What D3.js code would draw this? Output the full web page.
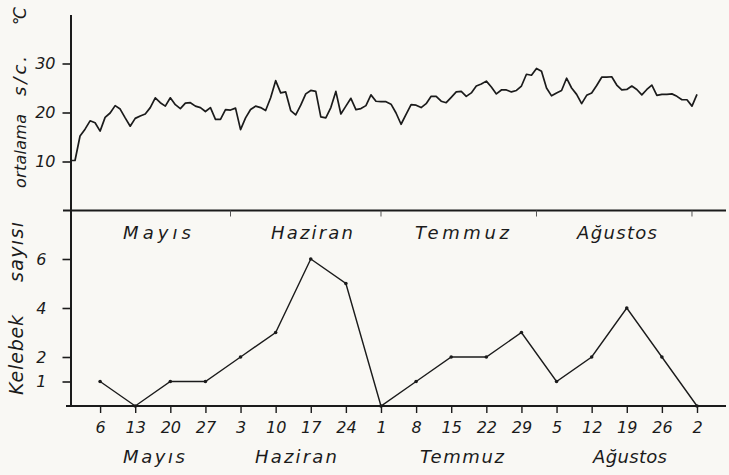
<!DOCTYPE html>
<html>
<head>
<meta charset="utf-8">
<script src="https://cdn.jsdelivr.net/npm/d3@7"></script>
<style>
  body { margin: 0; background: #f9f8f4; }
  svg { display: block; }
  text { font-family: "DejaVu Sans", sans-serif; font-style: italic; fill: #1b1b1b; }
</style>
</head>
<body>
<svg id="chart"></svg>
<script>
// daily mean temperature (°C), one array per month, first day given in tempStarts
var tempStarts = ["2001-04-30", "2001-05-01", "2001-06-01", "2001-07-01", "2001-08-01", "2001-09-01"];
var tempApr = [10.2];
var tempMay = [10.2, 15.2, 16.6, 18.3, 17.9, 16.2, 19.0, 19.9, 21.4, 20.7, 18.9, 17.2, 18.8, 19.3, 19.7, 21.0,
               23.0, 22.0, 21.3, 23.0, 21.6, 20.8, 21.9, 22.0, 21.3, 21.0, 20.2, 21.0, 18.6, 18.6, 20.6];
var tempJun = [20.5, 20.9, 16.5, 18.9, 20.6, 21.3, 21.0, 20.4, 23.0, 26.5, 24.0, 24.2, 20.4, 19.5, 21.5,
               23.8, 24.5, 24.3, 19.1, 18.9, 21.0, 24.3, 19.7, 21.3, 22.9, 20.6, 20.8, 21.4, 23.6, 22.3];
var tempJul = [22.2, 22.2, 21.7, 19.9, 17.6, 19.6, 21.6, 21.5, 21.0, 21.8, 23.3, 23.3, 22.3, 22.0, 23.1, 24.2,
               24.3, 23.3, 24.0, 25.4, 25.8, 26.4, 25.2, 23.8, 24.6, 24.6, 24.2, 24.5, 25.4, 27.8, 27.6];
var tempAug = [29.0, 28.4, 25.0, 23.4, 24.0, 24.5, 27.0, 25.0, 23.7, 21.8, 23.5, 24.0, 25.5, 27.2, 27.2, 27.3,
               25.6, 24.6, 24.7, 25.4, 24.7, 23.6, 24.7, 25.6, 23.5, 23.7, 23.7, 23.8, 23.3, 22.6, 22.6];
var tempSep = [21.3, 23.7];

// weekly butterfly counts
var weekDates = ["2001-05-06", "2001-05-13", "2001-05-20", "2001-05-27", "2001-06-03", "2001-06-10",
                 "2001-06-17", "2001-06-24", "2001-07-01", "2001-07-08", "2001-07-15", "2001-07-22",
                 "2001-07-29", "2001-08-05", "2001-08-12", "2001-08-19", "2001-08-26", "2001-09-02"];
var butterflyCounts = [1, 0, 1, 1, 2, 3, 6, 5, 0, 1, 2, 2, 3, 1, 2, 4, 2, 0];

var monthNames = ["Mayıs", "Haziran", "Temmuz", "Ağustos"];
var monthStarts = ["2001-06-01", "2001-07-01", "2001-08-01", "2001-09-01"];
var tempTicks = [10, 20, 30];
var countTicks = [1, 2, 4, 6];

var width = 729, height = 475;
var parse = d3.utcParse("%Y-%m-%d");

var svg = d3.select("#chart").attr("width", width).attr("height", height);

var x = d3.scaleUtc()
    .domain([parse("2001-04-30"), parse("2001-09-02")])
    .range([70, 697]);
var yTemp = d3.scaleLinear().domain([0, 40]).range([210.5, 14.5]);
var yCount = d3.scaleLinear().domain([0, 8]).range([406, 210]);

var temps = [];
[tempApr, tempMay, tempJun, tempJul, tempAug, tempSep].forEach(function (arr, m) {
    var start = parse(tempStarts[m]);
    arr.forEach(function (v, i) {
        temps.push({ date: d3.utcDay.offset(start, i), value: v });
    });
});
var counts = weekDates.map(function (d, i) { return { date: parse(d), value: butterflyCounts[i] }; });

// horizontal lines: panel divider and bottom axis
svg.append("line").attr("x1", 63).attr("x2", 726).attr("y1", yTemp(0)).attr("y2", yTemp(0))
    .attr("stroke", "#1b1b1b").attr("stroke-width", 2);
svg.append("line").attr("x1", 66).attr("x2", 726).attr("y1", yCount(0)).attr("y2", yCount(0))
    .attr("stroke", "#1b1b1b").attr("stroke-width", 2);

// small month marks on the divider
svg.append("g").selectAll("line").data(monthStarts).enter().append("line")
    .attr("x1", function (d) { return x(parse(d)); })
    .attr("x2", function (d) { return x(parse(d)); })
    .attr("y1", yTemp(0)).attr("y2", yTemp(0) + 6)
    .attr("stroke", "#555").attr("stroke-width", 1);

// y axes
var gTempAxis = svg.append("g").attr("transform", "translate(70.5,0)")
    .call(d3.axisLeft(yTemp).tickValues(tempTicks).tickSize(8).tickSizeOuter(0).tickPadding(7));
var gCountAxis = svg.append("g").attr("transform", "translate(70.5,0)")
    .call(d3.axisLeft(yCount).tickValues(countTicks).tickSize(8).tickSizeOuter(0).tickPadding(16));
[gTempAxis, gCountAxis].forEach(function (g) {
    g.selectAll("path.domain").attr("stroke", "#1b1b1b").attr("stroke-width", 2);
    g.selectAll(".tick line").attr("stroke", "#1b1b1b").attr("stroke-width", 1.6);
    g.selectAll(".tick text").attr("font-size", 16).attr("font-family", null);
});

// x axis (week days)
var gX = svg.append("g").attr("transform", "translate(0," + yCount(0) + ")")
    .call(d3.axisBottom(x).tickValues(counts.map(function (d) { return d.date; }))
        .tickFormat(d3.utcFormat("%-d")).tickSize(7).tickPadding(9));
gX.select("path.domain").remove();
gX.selectAll(".tick line").attr("stroke", "#1b1b1b").attr("stroke-width", 1.4);
gX.selectAll(".tick text").attr("font-size", 16).attr("font-family", null);

// temperature curve
svg.append("path").datum(temps)
    .attr("fill", "none").attr("stroke", "#1b1b1b").attr("stroke-width", 1.7)
    .attr("stroke-linejoin", "round")
    .attr("d", d3.line().x(function (d) { return x(d.date); }).y(function (d) { return yTemp(d.value); }));

// butterfly curve
svg.append("path").datum(counts)
    .attr("fill", "none").attr("stroke", "#1b1b1b").attr("stroke-width", 1.4)
    .attr("d", d3.line().x(function (d) { return x(d.date); }).y(function (d) { return yCount(d.value); }));
svg.append("g").selectAll("circle").data(counts).enter().append("circle")
    .attr("cx", function (d) { return x(d.date); })
    .attr("cy", function (d) { return yCount(d.value); })
    .attr("r", 1.8).attr("fill", "#1b1b1b");

// month labels
var topLabelX = [157, 312, 462, 617];
var topLabelW = [68, 82, 94, 80];
var botLabelX = [154, 296, 462, 630];
var botLabelW = [62, 82, 84, 74];
svg.append("g").selectAll("text").data(monthNames).enter().append("text")
    .attr("x", function (d, i) { return topLabelX[i] - topLabelW[i] / 2; })
    .attr("y", 239)
    .attr("font-size", 18)
    .attr("textLength", function (d, i) { return topLabelW[i]; })
    .text(function (d) { return d; });
svg.append("g").selectAll("text").data(monthNames).enter().append("text")
    .attr("x", function (d, i) { return botLabelX[i] - botLabelW[i] / 2; })
    .attr("y", 463)
    .attr("font-size", 18)
    .attr("textLength", function (d, i) { return botLabelW[i]; })
    .text(function (d) { return d; });

// y titles
function vtext(txt, cx, cy, len, size) {
    svg.append("text")
        .attr("transform", "translate(" + cx + "," + cy + ") rotate(-90)")
        .attr("text-anchor", "middle")
        .attr("font-size", size)
        .attr("textLength", len)
        .text(txt);
}
vtext("ortalama", 26, 151, 74, 16);
vtext("s/c.", 26, 76, 40, 18);
vtext("°C", 26, 16, 18, 17);
vtext("Kelebek", 23, 355, 80, 19);
vtext("sayısı", 23, 252, 60, 19);
</script>
</body>
</html>
